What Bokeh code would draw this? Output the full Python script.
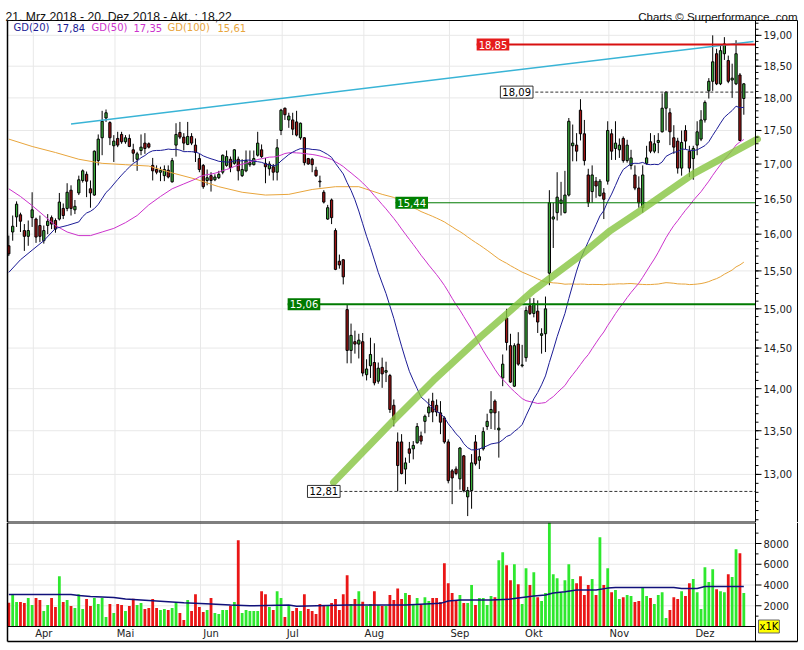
import math
import pandas as pd
from bokeh.plotting import figure
from bokeh.models import Range1d, Label, ColumnDataSource
from bokeh.core.properties import value
from bokeh.layouts import column
from bokeh.embed import file_html
from bokeh.resources import INLINE

# ---------------- data ----------------
opens = [
15.84,16.03,16.24,16.27,16.05,15.97,16.23,16.21,16.12,15.91,
16.12,16.23,16.19,16.21,16.36,16.36,16.62,16.34,16.58,16.76,
16.85,16.64,16.55,17.05,17.39,17.69,17.62,17.27,17.38,17.44,
17.33,17.38,17.21,17.07,17.20,17.31,17.30,16.98,16.92,16.88,
16.83,16.91,16.74,17.28,17.47,17.40,17.29,17.41,17.28,17.08,
16.98,16.76,16.83,16.77,16.80,16.88,16.98,17.07,17.01,17.07,
16.83,16.90,16.99,16.99,17.13,17.21,17.01,16.93,16.96,16.88,
17.50,17.84,17.66,17.66,17.63,17.39,17.39,17.08,17.07,16.91,
16.75,16.59,16.21,16.48,16.05,15.63,15.65,14.99,14.47,14.58,
14.55,14.58,14.17,14.28,14.32,14.09,14.26,14.20,14.16,13.80,
13.37,13.37,13.06,13.29,13.29,13.36,13.44,13.61,13.71,13.85,
13.80,13.71,13.65,13.37,13.04,13.06,12.95,13.21,12.75,12.82,
13.37,13.16,13.29,13.55,13.71,13.85,13.51,14.13,14.88,14.53,
14.03,14.55,14.28,14.38,15.04,14.94,14.97,14.66,14.68,15.47,
16.21,16.30,16.43,16.30,16.55,17.27,17.28,17.81,17.45,16.84,
16.60,16.75,16.54,16.58,16.75,17.45,17.23,17.21,17.38,17.05,
16.98,16.84,16.65,16.37,17.01,17.33,17.19,17.32,17.48,17.84,
17.77,17.39,17.34,16.94,17.50,17.19,17.08,17.28,17.37,17.66,
18.11,18.26,18.70,18.22,18.70,18.59,18.28,18.22,18.36,17.99,
]
highs = [
15.98,16.26,16.46,16.30,16.14,16.19,16.59,16.23,16.26,16.12,
16.28,16.26,16.22,16.58,16.43,16.72,16.69,16.48,16.83,16.92,
16.89,16.76,17.20,17.44,17.80,17.82,17.64,17.43,17.48,17.48,
17.43,17.44,17.30,17.18,17.44,17.46,17.32,17.09,16.98,16.96,
16.98,16.98,17.09,17.61,17.63,17.46,17.63,17.46,17.38,17.15,
17.00,16.92,16.88,16.85,16.90,17.14,17.20,17.11,17.22,17.11,
17.07,17.20,17.20,17.20,17.48,17.29,17.09,17.04,17.00,17.37,
17.83,17.85,17.77,17.77,17.80,17.62,17.40,17.09,17.09,16.96,
16.83,16.62,16.41,16.50,16.08,15.72,15.66,15.06,14.81,14.72,
14.68,14.69,14.36,14.63,14.56,14.32,14.38,14.33,14.18,13.87,
13.48,13.46,13.19,13.37,13.38,13.59,13.49,13.69,13.88,13.95,
13.87,13.85,13.67,13.40,13.06,13.09,13.31,13.22,12.86,13.23,
13.45,13.29,13.54,13.70,13.97,13.87,13.73,14.42,15.00,14.68,
14.56,14.70,14.54,15.03,15.14,15.14,15.11,14.75,15.16,16.62,
16.44,16.88,16.74,16.90,17.69,17.59,17.46,17.98,17.66,16.93,
16.98,16.81,16.78,16.65,17.64,17.52,17.64,17.38,17.41,17.36,
17.21,16.98,16.82,16.98,17.27,17.46,17.43,17.46,18.07,18.10,
17.84,17.58,17.39,17.50,17.58,17.27,17.27,17.64,17.81,17.96,
18.31,19.00,18.78,18.83,18.97,18.67,18.54,18.92,18.39,18.23,
]
lows = [
15.70,15.91,16.10,16.03,15.77,15.84,16.10,15.88,15.89,15.87,
16.00,16.07,16.02,16.19,16.21,16.32,16.26,16.28,16.55,16.73,
16.52,16.37,16.54,16.98,17.13,17.63,17.28,17.03,17.25,17.30,
17.30,17.25,17.03,16.90,17.13,17.15,17.23,16.76,16.85,16.75,
16.75,16.79,16.73,17.11,17.37,17.20,17.28,17.28,17.03,16.88,
16.64,16.69,16.60,16.75,16.78,16.85,16.96,16.88,16.99,16.76,
16.81,16.88,16.96,16.98,17.11,17.09,16.72,16.83,16.76,16.76,
17.43,17.66,17.54,17.43,17.41,17.36,16.98,16.99,16.88,16.81,
16.66,16.43,16.20,16.14,15.51,15.53,15.32,14.31,14.31,14.43,
14.37,14.15,14.10,14.13,14.04,14.06,14.01,14.08,13.71,13.55,
12.81,13.00,12.89,13.13,13.17,13.35,13.34,13.47,13.66,13.60,
13.67,13.46,13.35,12.90,12.67,12.99,12.83,12.80,12.54,12.62,
13.10,13.06,13.27,13.51,13.52,13.51,13.19,14.03,14.47,14.07,
14.02,14.28,14.26,14.33,14.92,14.89,14.69,14.43,14.45,15.31,
15.81,16.19,16.26,16.29,16.53,17.04,17.04,17.35,16.98,16.38,
16.44,16.51,16.53,16.21,16.70,17.06,17.06,17.09,17.02,17.02,
16.92,16.62,16.37,16.30,16.99,17.16,17.16,17.16,17.47,17.50,
17.28,17.15,16.86,16.83,17.22,16.81,16.77,17.13,17.34,17.62,
17.99,18.11,18.20,18.20,18.60,18.23,18.00,18.20,17.34,17.74,
]
closes = [
15.73,16.11,16.42,16.18,15.97,16.05,16.34,15.96,15.97,16.05,
16.18,16.14,16.07,16.45,16.26,16.59,16.36,16.39,16.77,16.90,
16.75,16.58,17.19,17.37,17.64,17.77,17.39,17.34,17.28,17.33,
17.39,17.26,17.16,17.15,17.25,17.23,17.25,16.90,16.88,16.91,
16.92,16.81,17.05,17.44,17.40,17.31,17.41,17.31,17.17,16.92,
16.67,16.80,16.76,16.81,16.85,17.13,17.11,16.95,17.21,16.90,
16.92,17.05,17.02,17.08,17.31,17.11,16.96,17.00,16.88,17.24,
17.81,17.74,17.72,17.52,17.43,17.61,17.02,17.00,16.99,16.83,
16.74,16.45,16.37,16.23,15.52,15.58,15.42,14.47,14.66,14.55,
14.60,14.19,14.24,14.42,14.07,14.25,14.18,14.22,13.75,13.63,
13.10,13.01,13.13,13.24,13.33,13.55,13.38,13.67,13.78,13.72,
13.72,13.60,13.37,12.93,12.96,13.01,13.30,12.82,12.82,13.13,
13.12,13.20,13.49,13.61,13.75,13.71,13.53,14.30,14.57,14.08,
14.53,14.30,14.29,14.98,14.94,15.07,14.83,14.68,15.00,16.44,
16.24,16.52,16.48,16.55,17.64,17.31,17.19,17.45,17.05,16.44,
16.84,16.68,16.75,16.49,17.50,17.19,17.31,17.28,17.05,17.28,
17.09,16.65,16.44,16.84,17.09,17.19,17.30,17.35,17.84,18.09,
17.48,17.25,16.94,17.32,17.34,16.94,17.23,17.48,17.66,17.93,
18.26,18.57,18.22,18.75,18.86,18.26,18.31,18.70,17.35,18.22,
]
volumes = [
2290,3030,2350,2350,2260,2740,2070,2740,2550,1490,
2070,2740,1870,4850,2350,2550,1970,1780,3120,1680,
2640,1970,2740,2160,2740,910,2160,1300,2160,2070,
1490,1970,2670,2070,2260,1680,1780,2640,1780,1590,
1680,1590,1780,2260,1300,620,2550,1490,3120,1870,
1390,1590,2740,1300,1200,1590,1590,2000,2350,8310,
1300,1590,1490,1490,1490,3410,3120,1870,1590,3410,
2740,910,1970,1490,1780,1490,3120,1680,1490,1200,
2160,1970,2070,2260,2640,1590,3120,4950,2160,2640,
3410,2390,1970,2160,3410,2070,1970,1970,3030,2550,
3670,2640,3220,3030,2160,2740,2070,2830,2450,2740,
2740,2350,6100,4180,3220,2550,3030,2260,2260,3990,
2070,2740,2740,2070,2930,2830,6390,7160,5910,4470,
6000,4080,2160,5620,3990,5240,2830,2450,3220,10500,
5040,4660,3220,4470,6000,4570,4180,4850,3030,3990,
4570,3030,8600,3990,5620,3310,3510,2640,2830,3030,
2930,2350,2450,3700,2930,2740,2160,3030,3310,820,
1590,2830,2640,3410,2930,4180,4570,3310,1680,5720,
4280,5530,3600,3410,3310,5040,4760,7450,7060,3220,
]

# moving averages: early part (before enough history)
gd20_early_idx = [0, 3, 6, 9, 12, 15, 18]
gd20_early = [15.48, 15.65, 15.78, 15.91, 16.08, 16.12, 16.17]
gd50_early_idx = [0, 3, 6, 9, 12, 15, 18, 21, 24, 27, 30, 33, 36, 39, 42, 45, 48]
gd50_early = [16.64, 16.53, 16.40, 16.26, 16.12, 16.03, 15.98, 15.98, 16.03, 16.08,
              16.16, 16.26, 16.41, 16.53, 16.64, 16.71, 16.78]
gd100_early_idx = [0, 6, 12, 18, 24, 30, 36, 42, 48, 54, 60, 66, 72, 78, 84, 90, 96]
gd100_early = [17.37, 17.26, 17.17, 17.07, 17.01, 16.99, 16.97, 16.87, 16.78, 16.67,
               16.59, 16.55, 16.56, 16.63, 16.67, 16.67, 16.56]

# volume average line
vma_idx = [0, 16, 18, 21, 27, 30, 37, 45, 52, 57, 62, 72, 74, 87, 102, 111, 113, 116,
           124, 129, 132, 135, 138, 140, 143, 146, 151, 154, 156, 171, 173, 177, 179, 189]
vma = [3090, 3090, 2990, 2900, 2800, 2640, 2480, 2290, 2160, 2070, 2000, 2070, 1950,
       2070, 2070, 2230, 2450, 2550, 2550, 2640, 2800, 2930, 3030, 3220, 3350, 3510,
       3510, 3700, 3760, 3760, 3670, 3670, 3860, 3860]

# drawn lines
trend_idx = [16.0, 191.5]
trend_val = [17.60, 18.90]
arc_idx = [83.5, 98.9, 109.2, 121.3, 134.9, 147.0, 154.7, 162.4, 176.1, 192.5]
arc_val = [12.91, 13.62, 14.10, 14.64, 15.24, 15.71, 16.05, 16.33, 16.86, 17.37]

level_vals = [18.85, 18.09, 16.44, 15.06, 12.81]
level_texts = ["18,85", "18,09", "15,44", "15,06", "12,81"]
level_line_start = [120.3, 134.1, 99.4, 71.7, 85.0]
level_label_x = [120.3, 126.4, 99.4, 71.7, 76.8]

months = ["Apr", "Mai", "Jun", "Jul", "Aug", "Sep", "Okt", "Nov", "Dez"]
month_start = [7, 28, 50, 71, 92, 114, 133, 155, 177]

price_ticks = [13.0, 13.5, 14.0, 14.5, 15.0, 15.5, 16.0, 16.5, 17.0, 17.5, 18.0, 18.5, 19.0]
vol_ticks = [2000, 4000, 6000, 8000]

legend_texts = ["GD(20)", "17,84", "GD(50)", "17,35", "GD(100)", "15,61"]
title_text = "21. Mrz 2018 - 20. Dez 2018 - Akt. : 18,22"
credit_text = "Charts \u00a9 Surperformance .com"

# ---------------- layout helpers (page pixel -> data) ----------------
def px2i(px):
    return (px - 8.3) / 3.889

def py2p(py):
    return 18.85 * math.exp(-(py - 44) / 1157.0)

def py2v(py):
    return (626 - py) * 96.4

W = 804
X_LO, X_HI = px2i(0), px2i(W)
L_EDGE, R_PLOT, R_EDGE = px2i(7), px2i(755), px2i(797)
P_TOP, P_BOT = py2p(20), py2p(522)
FONT = "DejaVu Sans"
GRID = "#e8e8e8"
TXT = "#222222"

# ---------------- derived ----------------
n = len(closes)
idx = list(range(n))
up = [c >= o for o, c in zip(opens, closes)]
src = ColumnDataSource(dict(
    i=idx, o=opens, h=highs, l=lows, c=closes,
    top=[max(o, c) for o, c in zip(opens, closes)],
    bot=[min(o, c) for o, c in zip(opens, closes)],
    col=["#3aae3a" if u else "#9e1414" for u in up],
    vcol=["#2ee82e" if u else "#ea1616" for u in up],
    v=volumes,
))

s = pd.Series(closes)
def ma_line(early_idx, early_vals, w):
    m = s.rolling(w).mean()
    return early_idx + idx[w - 1:], early_vals + list(m[w - 1:])

gd20_x, gd20_y = ma_line(gd20_early_idx, gd20_early, 20)
gd50_x, gd50_y = ma_line(gd50_early_idx, gd50_early, 50)
gd100_x, gd100_y = ma_line(gd100_early_idx, gd100_early, 100)

def txt(p, x, y, t, size="10px", color=TXT, align="left", baseline="middle", font=FONT):
    p.text(x=x, y=y, text=t, text_font=value(font), text_font_size=size,
           text_color=color, text_align=align, text_baseline=baseline)

# ---------------- price panel (with header) ----------------
p1 = figure(width=W, height=522, x_range=Range1d(X_LO, X_HI), y_range=Range1d(py2p(522), py2p(0)),
            y_axis_type="log", x_axis_location=None, y_axis_location=None,
            output_backend="svg", toolbar_location=None, min_border=0)
p1.outline_line_color = None
p1.xgrid.visible = False
p1.ygrid.visible = False

# grid
p1.segment(x0=[L_EDGE] * len(price_ticks), y0=price_ticks, x1=[R_PLOT] * len(price_ticks),
           y1=price_ticks, color=GRID, line_width=1)
gx = [m - 0.7 for m in month_start]
p1.segment(x0=gx, y0=[P_BOT] * len(gx), x1=gx, y1=[P_TOP] * len(gx), color=GRID, line_width=1)

# candles
p1.segment(x0="i", y0="l", x1="i", y1="h", source=src, color="black", line_width=1)
p1.vbar(x="i", width=0.58, top="top", bottom="bot", source=src,
        fill_color="col", line_color="black", line_width=1)

# moving averages
p1.line(gd100_x, gd100_y, color="#e8a53c", line_width=1)
p1.line(gd50_x, gd50_y, color="#cc33cc", line_width=1)
p1.line(gd20_x, gd20_y, color="#1c1c96", line_width=1)

p1.line(trend_idx, trend_val, color="#39b4d6", line_width=1.5)

level_colors = ["#d81010", "#333333", "#007a00", "#007a00", "#333333"]
level_widths = [2, 1, 1, 2, 1]
level_dash = ["solid", "3 2", "solid", "solid", "3 2"]
label_bg = ["#e51c1c", "white", "#008000", "#007a00", "white"]
label_fg = ["white", "black", "white", "white", "black"]
label_bd = [None, "#333333", None, None, "#333333"]
for lv, ls, col, lw, ld in zip(level_vals, level_line_start, level_colors, level_widths, level_dash):
    p1.line([ls, R_PLOT], [lv, lv], color=col, line_width=lw, line_dash=ld)

p1.line(arc_idx, arc_val, color="#86c440", line_width=7, alpha=0.8, line_cap="round")

for lv, lx, t, bg, fg, bd in zip(level_vals, level_label_x, level_texts, label_bg, label_fg, label_bd):
    p1.add_layout(Label(x=lx, y=lv, text=t, text_baseline="middle", text_align="left",
                        text_font=FONT, text_font_size="10px", text_color=fg,
                        background_fill_color=bg, border_line_color=bd, padding=2))

legend_x = [px2i(13), px2i(56), px2i(91), px2i(133), px2i(167), px2i(217)]
legend_col = ["#1c1c96", "#1c1c96", "#cc33cc", "#cc33cc", "#e8a53c", "#e8a53c"]
txt(p1, legend_x, [py2p(27)] * 6, legend_texts, color=legend_col)

# frame / borders
p1.line([L_EDGE, R_EDGE], [P_TOP, P_TOP], color="black", line_width=1)
p1.line([L_EDGE, L_EDGE], [P_TOP, P_BOT], color="black", line_width=1.5)
p1.line([R_EDGE, R_EDGE], [P_TOP, P_BOT], color="black", line_width=1)
p1.line([R_PLOT, R_PLOT], [P_TOP, P_BOT], color="black", line_width=1)
p1.line([L_EDGE, R_PLOT], [P_BOT, P_BOT], color="black", line_width=2)

# price axis (right)
tick_x0 = [R_PLOT] * len(price_ticks)
p1.segment(x0=tick_x0, y0=price_ticks, x1=[px2i(761)] * len(price_ticks), y1=price_ticks,
           color="black", line_width=1)
minor = [round(12.5 + 0.1 * k, 1) for k in range(68)]
minor = [m for m in minor if P_BOT < m < P_TOP]
p1.segment(x0=[R_PLOT] * len(minor), y0=minor, x1=[px2i(758)] * len(minor), y1=minor,
           color="black", line_width=1)
txt(p1, [px2i(763)] * len(price_ticks), price_ticks,
    [("%.2f" % t).replace(".", ",") for t in price_ticks])

# header
txt(p1, [px2i(5)], [py2p(16.8)], [title_text], size="12.2px", color="#111111",
    baseline="alphabetic", font="Liberation Sans")
txt(p1, [px2i(797)], [py2p(16.8)], [credit_text], size="11.5px", color="#111111",
    align="right", baseline="alphabetic", font="Liberation Sans")

# ---------------- volume panel ----------------
V_TOP, V_BOT = py2v(522), py2v(641)
p2 = figure(width=W, height=128, x_range=p1.x_range, y_range=Range1d(py2v(650), py2v(522)),
            x_axis_location=None, y_axis_location=None,
            output_backend="svg", toolbar_location=None, min_border=0)
p2.outline_line_color = None
p2.xgrid.visible = False
p2.ygrid.visible = False

p2.segment(x0=[L_EDGE] * len(vol_ticks), y0=vol_ticks, x1=[R_PLOT] * len(vol_ticks),
           y1=vol_ticks, color=GRID, line_width=1)
p2.segment(x0=gx, y0=[0] * len(gx), x1=gx, y1=[V_TOP] * len(gx), color=GRID, line_width=1)

p2.vbar(x="i", top="v", width=0.72, source=src, fill_color="vcol", line_color=None)
p2.line(vma_idx, vma, color="#10107a", line_width=1.5)

# frame / borders
p2.line([L_EDGE, R_PLOT], [V_TOP, V_TOP], color="black", line_width=2)
p2.line([L_EDGE, R_PLOT], [0, 0], color="black", line_width=1)
p2.line([L_EDGE, R_EDGE], [V_BOT, V_BOT], color="black", line_width=1.5)
p2.line([L_EDGE, L_EDGE], [V_BOT, V_TOP], color="black", line_width=1.5)
p2.line([R_EDGE, R_EDGE], [V_BOT, V_TOP], color="black", line_width=1)
p2.line([R_PLOT, R_PLOT], [V_BOT, V_TOP], color="black", line_width=1)

# volume axis (right)
vminor = [1000, 3000, 5000, 7000, 9000]
p2.segment(x0=[R_PLOT] * len(vol_ticks), y0=vol_ticks, x1=[px2i(761)] * len(vol_ticks),
           y1=vol_ticks, color="black", line_width=1)
p2.segment(x0=[R_PLOT] * len(vminor), y0=vminor, x1=[px2i(758)] * len(vminor), y1=vminor,
           color="black", line_width=1)
txt(p2, [px2i(763)] * len(vol_ticks), vol_ticks, [str(v) for v in vol_ticks])
p2.add_layout(Label(x=px2i(758), y=0, text="x1K", text_baseline="middle", text_align="left",
                    text_font=FONT, text_font_size="10px", text_color="black",
                    background_fill_color="#ffff00", border_line_color="#666666", padding=1))

# month labels
txt(p2, [m + 2 for m in month_start], [py2v(633)] * len(months), months, align="center")

layout = column(p1, p2)
open("out.html", "w").write(file_html(layout, INLINE))
